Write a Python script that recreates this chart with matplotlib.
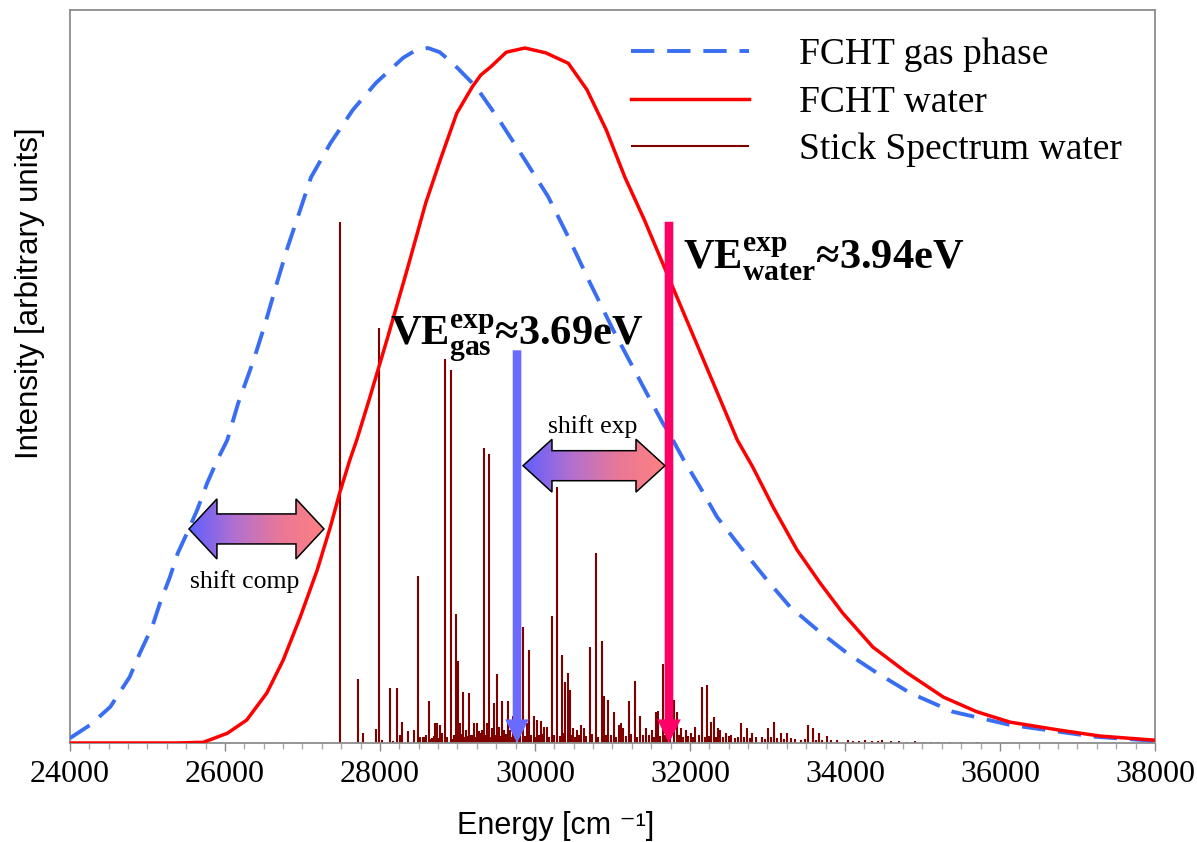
import numpy as np
import matplotlib
matplotlib.use("Agg")
import matplotlib.pyplot as plt
from matplotlib.patches import Polygon, FancyArrowPatch, ArrowStyle
from matplotlib.colors import LinearSegmentedColormap
from matplotlib.ticker import MultipleLocator

plt.rcParams['mathtext.fontset'] = 'custom'
plt.rcParams['mathtext.rm'] = 'Liberation Serif'
plt.rcParams['mathtext.bf'] = 'Liberation Serif:bold'

# FCHT gas phase (dashed blue)
gas_E = [24000, 24260, 24520, 24770, 24900, 25060, 25160, 25290, 25390, 25510,
         25640, 25770, 25900, 26030, 26170, 26370, 26520, 26670, 26810, 26970,
         27110, 27360, 27650, 27950, 28300, 28450, 28620, 28770, 28940, 29240,
         29540, 29870, 30170, 30430, 30710, 31010, 31390, 31650, 31730, 31920,
         32130, 32350, 32650, 32990, 33290, 33640, 34030, 34410, 34840, 35390,
         36130, 37230, 38000]
gas_I = [0.007, 0.026, 0.052, 0.095, 0.129, 0.167, 0.201, 0.239, 0.273, 0.302,
         0.335, 0.374, 0.407, 0.436, 0.489, 0.551, 0.604, 0.662, 0.714, 0.767,
         0.814, 0.863, 0.911, 0.950, 0.986, 0.996, 1.000, 0.994, 0.978, 0.944,
         0.896, 0.839, 0.786, 0.728, 0.662, 0.594, 0.514, 0.460, 0.446, 0.407,
         0.368, 0.325, 0.282, 0.235, 0.196, 0.163, 0.129, 0.101, 0.072, 0.045,
         0.026, 0.009, 0.003]

# FCHT water (solid red)
wat_E = [24000, 25380, 25720, 26030, 26280, 26540, 26750, 26970, 27190, 27360,
         27480, 27610, 27700, 27860, 28100, 28350, 28590, 28790, 28990, 29190,
         29300, 29430, 29630, 29870, 30140, 30430, 30670, 30920, 31160, 31410,
         31720, 32160, 32610, 32810, 33070, 33380, 33680, 33970, 34360, 34800,
         35270, 35700, 36130, 36740, 37290, 38000]
wat_I = [0.000, 0.000, 0.001, 0.014, 0.033, 0.072, 0.119, 0.181, 0.249, 0.311,
         0.360, 0.407, 0.436, 0.494, 0.584, 0.681, 0.777, 0.843, 0.906, 0.944,
         0.961, 0.973, 0.994, 1.000, 0.993, 0.978, 0.940, 0.882, 0.814, 0.753,
         0.671, 0.555, 0.436, 0.397, 0.340, 0.278, 0.230, 0.187, 0.138, 0.101,
         0.066, 0.045, 0.030, 0.019, 0.010, 0.004]

# stick spectrum water, main lines
stick_E = [27480, 27720, 27780, 27950, 27990, 28030, 28130, 28170, 28220, 28260,
           28280, 28360, 28440, 28490, 28520, 28570, 28630, 28670, 28710, 28740,
           28770, 28840, 28920, 28940, 28980, 29010, 29030, 29070, 29110, 29150,
           29190, 29210, 29250, 29280, 29320, 29340, 29380, 29410, 29450, 29470,
           29510, 29540, 29570, 29600, 29650, 29680, 29720, 29810, 29850, 29900,
           29920, 29990, 30030, 30080, 30120, 30160, 30220, 30280, 30350, 30390,
           30430, 30450, 30490, 30540, 30590, 30630, 30710, 30790, 30860, 30890,
           30940, 31020, 31080, 31110, 31140, 31210, 31290, 31360, 31430, 31510,
           31560, 31590, 31650, 31700, 31790, 31830, 31880, 31950, 32010, 32070,
           32160, 32220, 32270, 32310, 32360, 32390, 32470, 32530, 32660, 32740,
           32800, 33010, 33080, 33170, 33250, 33520, 33590, 33670, 33770, 34040,
           34180, 34480, 34590, 35020, 35110]
stick_I = [0.750, 0.092, 0.014, 0.020, 0.597, 0.004, 0.079, 0.003, 0.079, 0.012,
           0.030, 0.017, 0.019, 0.240, 0.009, 0.009, 0.060, 0.007, 0.029, 0.029,
           0.026, 0.553, 0.537, 0.006, 0.186, 0.118, 0.029, 0.073, 0.019, 0.072,
           0.012, 0.029, 0.029, 0.017, 0.019, 0.424, 0.029, 0.416, 0.022, 0.058,
           0.099, 0.023, 0.060, 0.019, 0.060, 0.019, 0.039, 0.022, 0.167, 0.029,
           0.134, 0.039, 0.033, 0.032, 0.023, 0.023, 0.183, 0.368, 0.127, 0.088,
           0.101, 0.076, 0.022, 0.019, 0.026, 0.022, 0.138, 0.273, 0.147, 0.068,
           0.062, 0.045, 0.026, 0.029, 0.022, 0.060, 0.089, 0.039, 0.022, 0.019,
           0.045, 0.046, 0.114, 0.039, 0.062, 0.045, 0.022, 0.019, 0.014, 0.023,
           0.081, 0.083, 0.030, 0.037, 0.022, 0.019, 0.014, 0.012, 0.029, 0.022,
           0.014, 0.022, 0.030, 0.014, 0.014, 0.026, 0.022, 0.014, 0.010, 0.004,
           0.003, 0.004, 0.003, 0.002, 0.002]

# the small lines at the foot of the stick spectrum
minor_E = [28560, 28600, 28660, 28700, 28760, 28800, 28870, 28960, 29050, 29090,
           29130, 29170, 29230, 29290, 29360, 29420, 29490, 29550, 29620, 29700,
           29740, 29790, 29870, 29950, 30000, 30050, 30100, 30180, 30240, 30320,
           30370, 30470, 30520, 30570, 30660, 30740, 30810, 30920, 30980, 31050,
           31170, 31240, 31320, 31390, 31470, 31540, 31610, 31680, 31740, 31860,
           31910, 31980, 32040, 32110, 32190, 32250, 32330, 32420, 32500, 32580,
           32620, 32700, 32770, 32850, 32930, 32970, 33050, 33120, 33210, 33300,
           33360, 33430, 33480, 33620, 33700, 33820, 33900, 34100, 34260, 34350,
           34420, 34700, 34800, 34900, 35200, 35350, 35500, 35700]
minor_I = [0.008, 0.012, 0.006, 0.010, 0.007, 0.014, 0.009, 0.011, 0.013, 0.008,
           0.010, 0.012, 0.009, 0.014, 0.011, 0.008, 0.012, 0.010, 0.013, 0.009,
           0.011, 0.014, 0.010, 0.012, 0.008, 0.011, 0.013, 0.009, 0.012, 0.010,
           0.014, 0.011, 0.008, 0.012, 0.010, 0.013, 0.009, 0.011, 0.012, 0.008,
           0.010, 0.013, 0.009, 0.011, 0.012, 0.008, 0.010, 0.012, 0.009, 0.011,
           0.008, 0.010, 0.009, 0.011, 0.008, 0.010, 0.009, 0.008, 0.010, 0.007,
           0.009, 0.008, 0.007, 0.009, 0.008, 0.006, 0.008, 0.007, 0.006, 0.007,
           0.006, 0.005, 0.006, 0.005, 0.004, 0.005, 0.004, 0.003, 0.004, 0.003,
           0.003, 0.003, 0.002, 0.003, 0.002, 0.002, 0.002, 0.002]

# experimental vertical excitation energies (cm-1) and arrow tops
ve_gas_E, ve_gas_top = 29768, 0.565
ve_wat_E, ve_wat_top = 31729, 0.750

serif = 'Liberation Serif'

fig = plt.figure(figsize=(11.97, 8.42), dpi=100)
ax = fig.add_axes([70/1197, 99/842, 1085/1197, 733/842])

ax.vlines(stick_E + minor_E, 0, stick_I + minor_I, color='#800000', lw=1.5,
          zorder=2, label='Stick Spectrum water')
ax.plot(gas_E, gas_I, color='#3a6ef2', lw=2.8, dashes=(6, 3.3), zorder=3,
        label='FCHT gas phase', solid_joinstyle='round')
ax.plot(wat_E, wat_I, color='#ff0000', lw=2.5, zorder=3, label='FCHT water',
        solid_joinstyle='round')

# experimental arrows
for E, top, col in [(ve_gas_E, ve_gas_top, '#6a6aff'), (ve_wat_E, ve_wat_top, '#ff0066')]:
    arr = FancyArrowPatch((E, top), (E, 0),
                          arrowstyle=ArrowStyle.Simple(head_length=17, head_width=17, tail_width=6.2),
                          color=col, lw=0, shrinkA=0, shrinkB=0, zorder=4)
    ax.add_patch(arr)

ax.text(28129, 0.574, r'VE$^{\mathbf{exp}}_{\mathbf{gas}}$≈3.69eV', family=serif,
        weight='bold', fontsize=30.5, va='baseline', ha='left', zorder=6)
ax.text(31910, 0.681, r'VE$^{\mathbf{exp}}_{\mathbf{water}}$≈3.94eV', family=serif,
        weight='bold', fontsize=30.5, va='baseline', ha='left', zorder=6)

# gradient double arrows
cmap = LinearSegmentedColormap.from_list('shift', ['#5f5fff', '#b070d0', '#e87898', '#ff8080'])


def double_arrow(x0, x1, yc, hl, hh, sh):
    pts = [(x0, yc), (x0 + hl, yc + hh), (x0 + hl, yc + sh), (x1 - hl, yc + sh),
           (x1 - hl, yc + hh), (x1, yc), (x1 - hl, yc - hh), (x1 - hl, yc - sh),
           (x0 + hl, yc - sh), (x0 + hl, yc - hh)]
    poly = Polygon(pts, closed=True, fill=False, edgecolor='black', lw=1.1, zorder=6)
    ax.add_patch(poly)
    grad = np.linspace(0, 1, 256).reshape(1, -1)
    im = ax.imshow(grad, extent=[x0, x1, yc - hh, yc + hh], cmap=cmap, aspect='auto',
                   zorder=5, origin='lower')
    im.set_clip_path(poly)


double_arrow(25535, 27277, 0.308, 361, 0.0432, 0.0216)
double_arrow(29845, 31677, 0.399, 374, 0.038, 0.0216)
ax.text(26258, 0.232, 'shift comp', family=serif, fontsize=18.5, ha='center', va='center', zorder=6)
ax.text(30748, 0.456, 'shift exp', family=serif, fontsize=18.5, ha='center', va='center', zorder=6)

ax.set_xlim(24000, 38000)
ax.set_ylim(0, 733/695)
ax.set_yticks([])
ax.xaxis.set_major_locator(MultipleLocator(2000))
ax.xaxis.set_minor_locator(MultipleLocator(250))
ax.tick_params(axis='x', which='major', direction='out', length=6, width=1, color='#888888',
               labelsize=23, pad=6)
ax.tick_params(axis='x', which='minor', direction='out', length=4, width=1, color='#aaaaaa')
for lab in ax.get_xticklabels():
    lab.set_family(serif)
for s in ax.spines.values():
    s.set_color('#8c8c8c')
    s.set_linewidth(1.3)

fig.text(556/1197, 1 - 826/842, 'Energy [cm ⁻¹]', family=['Liberation Sans', 'DejaVu Sans'],
         fontsize=22, ha='center', va='center')
fig.text(30/1197, 1 - 293/842, 'Intensity [arbitrary units]', family=['Liberation Sans', 'DejaVu Sans'],
         fontsize=22.5, ha='center', va='center', rotation=90)

h, l = ax.get_legend_handles_labels()
order = [l.index('FCHT gas phase'), l.index('FCHT water'), l.index('Stick Spectrum water')]
leg = ax.legend([h[i] for i in order], [l[i] for i in order], loc='upper right',
                bbox_to_anchor=(0.9834, 0.9823), frameon=False,
                prop={'family': serif, 'size': 27}, handlelength=3.15,
                handletextpad=1.33, labelspacing=0.34, borderaxespad=0)

fig.savefig('out.png', dpi=100)
